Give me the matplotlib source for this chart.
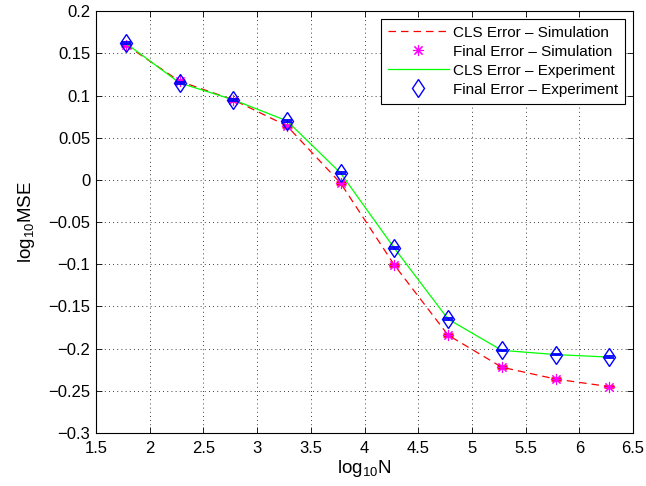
import matplotlib
matplotlib.use('Agg')
import matplotlib.pyplot as plt
import numpy as np

plt.rcParams['font.family'] = ['Liberation Sans', 'DejaVu Sans']
plt.rcParams['mathtext.fontset'] = 'custom'
plt.rcParams['mathtext.rm'] = 'Liberation Sans'
plt.rcParams['mathtext.it'] = 'Liberation Sans:italic'
plt.rcParams['font.size'] = 12

# ---- data
logN = [1.778, 2.278, 2.778, 3.278, 3.778, 4.278, 4.778, 5.278, 5.778, 6.278]
cls_sim = [0.160, 0.117, 0.095, 0.064, -0.004, -0.101, -0.184, -0.222, -0.236, -0.245]
final_sim = [0.160, 0.117, 0.095, 0.064, -0.004, -0.101, -0.184, -0.222, -0.236, -0.245]
cls_exp = [0.162, 0.115, 0.095, 0.070, 0.008, -0.081, -0.165, -0.202, -0.207, -0.210]
final_exp = [0.162, 0.115, 0.095, 0.070, 0.008, -0.081, -0.165, -0.202, -0.207, -0.210]
err_sim = [0.001] * 10
err_exp = [0.001] * 10
xticks = ['1.5', '2', '2.5', '3', '3.5', '4', '4.5', '5', '5.5', '6', '6.5']
yticks = ['\u22120.3', '\u22120.25', '\u22120.2', '\u22120.15', '\u22120.1', '\u22120.05',
          '0', '0.05', '0.1', '0.15', '0.2']

fig = plt.figure(figsize=(6.46, 4.86), dpi=100)
ax = fig.add_axes([0.1486, 0.109, 0.8314, 0.868])

l1, = ax.plot(logN, cls_sim, '--', color='#ff0000', lw=0.9, dashes=(6, 4))
ax.errorbar(logN, final_sim, yerr=err_sim, fmt='none', ecolor='#ff0000',
            capsize=3.5, elinewidth=1, capthick=1.8)
l2, = ax.plot(logN, final_sim, ls='none', marker=(8, 2, 0), ms=8,
              mec='#ff00ff', mew=0.8)
l3, = ax.plot(logN, cls_exp, '-', color='#00ff00', lw=0.9)
ax.errorbar(logN, final_exp, yerr=err_exp, fmt='none', ecolor='#0000ff',
            capsize=3.5, elinewidth=1, capthick=1.3)
l4, = ax.plot(logN, final_exp, ls='none', marker='d', ms=9.5,
              mfc='none', mec='#0000ff', mew=1)

ax.set_xlim(1.5, 6.5)
ax.set_ylim(-0.3, 0.2)
ax.set_xticks(np.arange(1.5, 6.51, 0.5))
ax.set_yticks(np.arange(-0.3, 0.201, 0.05))
ax.set_xticklabels(xticks)
ax.set_yticklabels(yticks)
ax.tick_params(direction='in', top=True, right=True, length=4, width=0.6)
ax.tick_params(axis='x', pad=6)
ax.tick_params(axis='y', pad=4)
ax.grid(True, color='black', ls=(0, (1, 4)), lw=0.6)
for s in ax.spines.values():
    s.set_linewidth(0.8)

ax.set_xlabel('log$_{10}$N', fontsize=13.5, labelpad=1)
ax.set_ylabel('log$_{10}$MSE', fontsize=13.5, labelpad=8)

leg = ax.legend([l1, l2, l3, l4],
                ['CLS Error – Simulation', 'Final Error – Simulation',
                 'CLS Error – Experiment', 'Final Error – Experiment'],
                loc='upper right', fancybox=False, framealpha=1, edgecolor='black',
                fontsize=11, handlelength=4.0, handletextpad=0.3, labelspacing=0.33,
                borderaxespad=0.5, borderpad=0.45)
leg.get_frame().set_linewidth(0.8)

fig.savefig('out.png', dpi=100)
